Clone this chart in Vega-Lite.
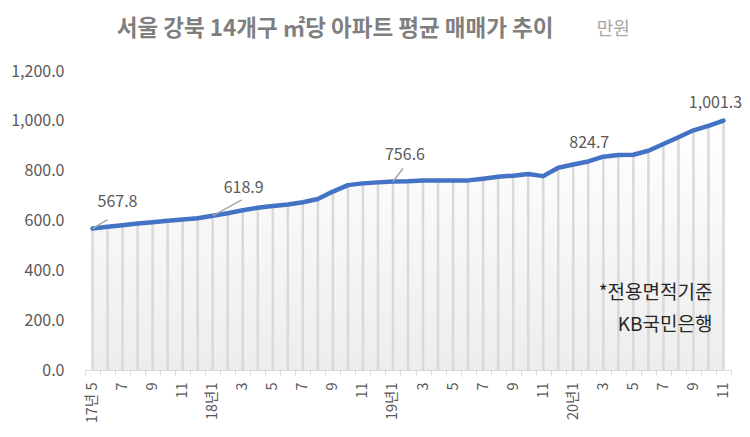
{
  "$schema": "https://vega.github.io/schema/vega-lite/v6.json",
  "width": 646,
  "height": 299,
  "autosize": {"type": "none"},
  "padding": {"left": 85, "top": 71, "right": 19, "bottom": 67},
  "background": "#ffffff",
  "config": {
    "view": {"stroke": null},
    "font": "Noto Sans CJK KR",
    "axis": {"labelFont": "Noto Sans CJK KR", "labelColor": "#595959"}
  },
  "title": {
    "text": "서울 강북 14개구 ㎡당 아파트 평균 매매가 추이",
    "anchor": "start",
    "dx": 106,
    "offset": -20,
    "fontSize": 22.5,
    "fontWeight": "bold",
    "color": "#7f7f7f",
    "font": "Noto Sans CJK KR"
  },
  "data": {
    "values": [
      {"m": "17-05", "v": 567.8}, {"m": "17-06", "v": 575}, {"m": "17-07", "v": 581}, {"m": "17-08", "v": 588},
      {"m": "17-09", "v": 593}, {"m": "17-10", "v": 599}, {"m": "17-11", "v": 604}, {"m": "17-12", "v": 609},
      {"m": "18-01", "v": 618.9}, {"m": "18-02", "v": 629}, {"m": "18-03", "v": 641}, {"m": "18-04", "v": 651},
      {"m": "18-05", "v": 658}, {"m": "18-06", "v": 664}, {"m": "18-07", "v": 673}, {"m": "18-08", "v": 686},
      {"m": "18-09", "v": 716}, {"m": "18-10", "v": 742}, {"m": "18-11", "v": 749}, {"m": "18-12", "v": 753},
      {"m": "19-01", "v": 756.6}, {"m": "19-02", "v": 758}, {"m": "19-03", "v": 761}, {"m": "19-04", "v": 761},
      {"m": "19-05", "v": 761}, {"m": "19-06", "v": 761}, {"m": "19-07", "v": 768}, {"m": "19-08", "v": 776},
      {"m": "19-09", "v": 780}, {"m": "19-10", "v": 787}, {"m": "19-11", "v": 778}, {"m": "19-12", "v": 812},
      {"m": "20-01", "v": 824.7}, {"m": "20-02", "v": 837}, {"m": "20-03", "v": 856}, {"m": "20-04", "v": 863},
      {"m": "20-05", "v": 864}, {"m": "20-06", "v": 880}, {"m": "20-07", "v": 907}, {"m": "20-08", "v": 934},
      {"m": "20-09", "v": 962}, {"m": "20-10", "v": 980}, {"m": "20-11", "v": 1001.3}
    ]
  },
  "encoding": {
    "x": {
      "field": "m",
      "type": "ordinal",
      "sort": null,
      "scale": {"type": "band", "paddingInner": 0, "paddingOuter": 0},
      "axis": {
        "title": null,
        "labelAngle": -90,
        "labelFontSize": 14.5,
        "labelPadding": 7,
        "labelOverlap": false,
        "tickBand": "extent",
        "tickSize": 5,
        "tickColor": "#d9d9d9",
        "domainColor": "#d9d9d9",
        "domainWidth": 1,
        "labelExpr": "substring(datum.value,3,5)=='01' ? substring(datum.value,0,2)+'년1' : (datum.value=='17-05' ? '17년 5' : (toNumber(substring(datum.value,3,5))%2==1 ? toNumber(substring(datum.value,3,5))+'' : ''))"
      }
    },
    "y": {
      "field": "v",
      "type": "quantitative",
      "scale": {"domain": [0, 1200], "nice": false},
      "axis": {
        "title": null,
        "values": [0, 200, 400, 600, 800, 1000, 1200],
        "format": ",.1f",
        "labelFontSize": 16,
        "labelPadding": 21,
        "ticks": false,
        "domain": false,
        "grid": false
      }
    }
  },
  "layer": [
    {
      "mark": {
        "type": "area",
        "fill": {
          "gradient": "linear", "x1": 0, "y1": 0, "x2": 0, "y2": 1,
          "stops": [{"offset": 0, "color": "#ffffff"}, {"offset": 1, "color": "#ededed"}]
        }
      }
    },
    {
      "mark": {"type": "rule", "color": "#d9d9d9", "strokeWidth": 2.5},
      "encoding": {"y2": {"datum": 0}}
    },
    {
      "mark": {"type": "line", "color": "#4472c4", "strokeWidth": 4.5, "strokeJoin": "round", "strokeCap": "round"}
    },
    {
      "transform": [{"filter": "datum.m=='17-05'"}],
      "mark": {"type": "rule", "color": "#a6a6a6", "strokeWidth": 1.5, "x2Offset": 15, "y2Offset": -9},
      "encoding": {"x2": {"field": "m"}, "y2": {"field": "v"}}
    },
    {
      "transform": [{"filter": "datum.m=='18-01'"}],
      "mark": {"type": "rule", "color": "#a6a6a6", "strokeWidth": 1.5, "x2Offset": 29, "y2Offset": -16},
      "encoding": {"x2": {"field": "m"}, "y2": {"field": "v"}}
    },
    {
      "transform": [{"filter": "datum.m=='19-01'"}],
      "mark": {"type": "rule", "color": "#a6a6a6", "strokeWidth": 1.5, "x2Offset": 10, "y2Offset": -13},
      "encoding": {"x2": {"field": "m"}, "y2": {"field": "v"}}
    },
    {
      "transform": [{"filter": "datum.m=='17-05'"}],
      "mark": {"type": "text", "fontSize": 16, "color": "#595959", "dx": 25, "dy": -27},
      "encoding": {"text": {"field": "v", "format": ",.1f"}}
    },
    {
      "transform": [{"filter": "datum.m=='18-01'"}],
      "mark": {"type": "text", "fontSize": 16, "color": "#595959", "dx": 31, "dy": -28},
      "encoding": {"text": {"field": "v", "format": ",.1f"}}
    },
    {
      "transform": [{"filter": "datum.m=='19-01'"}],
      "mark": {"type": "text", "fontSize": 16, "color": "#595959", "dx": 12, "dy": -26},
      "encoding": {"text": {"field": "v", "format": ",.1f"}}
    },
    {
      "transform": [{"filter": "datum.m=='20-01'"}],
      "mark": {"type": "text", "fontSize": 16, "color": "#595959", "dx": 16, "dy": -22},
      "encoding": {"text": {"field": "v", "format": ",.1f"}}
    },
    {
      "transform": [{"filter": "datum.m=='20-11'"}],
      "mark": {"type": "text", "fontSize": 16, "color": "#595959", "dx": -8, "dy": -18},
      "encoding": {"text": {"field": "v", "format": ",.1f"}}
    },
    {
      "transform": [{"filter": "datum.m=='20-04'"}],
      "mark": {"type": "text", "fontSize": 18, "color": "#a6a6a6", "dx": -5, "dy": -125, "text": "만원"}
    },
    {
      "transform": [{"filter": "datum.m=='20-11'"}],
      "mark": {"type": "text", "fontSize": 19, "color": "#262626", "align": "right", "dx": -11, "dy": 172, "text": "*전용면적기준"}
    },
    {
      "transform": [{"filter": "datum.m=='20-11'"}],
      "mark": {"type": "text", "fontSize": 19, "color": "#262626", "align": "right", "dx": -11, "dy": 204, "text": "KB국민은행"}
    }
  ]
}
